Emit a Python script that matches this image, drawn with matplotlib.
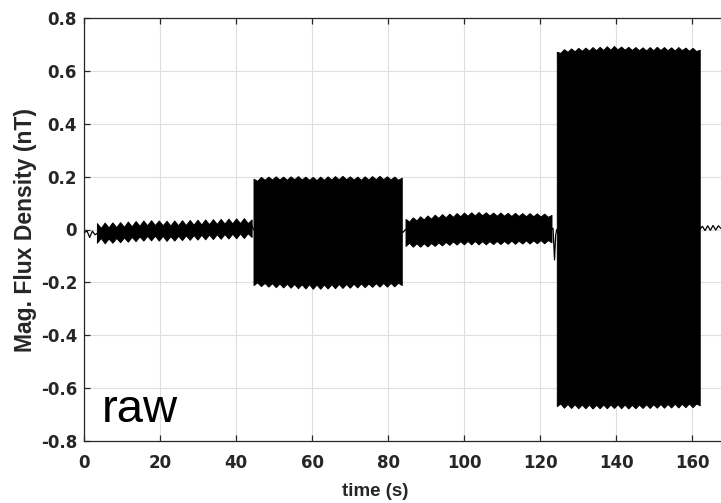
import numpy as np
import matplotlib
matplotlib.use("Agg")
import matplotlib.pyplot as plt

# time span of the four excitation blocks (s)
seg_start = [3.4, 44.6, 84.6, 124.4]
seg_end = [44.1, 83.6, 123.0, 162.0]

# envelope of each block (nT), alternating crest / trough
seg1_upper = [0.024, 0.006, 0.026, 0.008, 0.027, 0.009, 0.028, 0.010, 0.030, 0.012,
              0.032, 0.014, 0.034, 0.016, 0.035, 0.017, 0.034, 0.016, 0.033, 0.015,
              0.034, 0.016, 0.035, 0.017, 0.036, 0.018, 0.037, 0.019, 0.038, 0.020,
              0.039, 0.021, 0.040, 0.022, 0.041, 0.023, 0.042, 0.024, 0.043, 0.024, 0.038]
seg1_lower = [-0.050, -0.032, -0.052, -0.034, -0.050, -0.032, -0.048, -0.030, -0.046, -0.028,
              -0.044, -0.026, -0.042, -0.024, -0.041, -0.023, -0.042, -0.024, -0.043, -0.025,
              -0.042, -0.024, -0.040, -0.022, -0.039, -0.021, -0.038, -0.020, -0.037, -0.019,
              -0.036, -0.018, -0.035, -0.017, -0.034, -0.016, -0.033, -0.015, -0.032, -0.014, -0.028]

seg2_upper = [0.192, 0.184, 0.199, 0.188, 0.200, 0.189, 0.201, 0.189, 0.200, 0.188,
              0.201, 0.190, 0.202, 0.189, 0.200, 0.188, 0.199, 0.187, 0.200, 0.188,
              0.201, 0.189, 0.202, 0.190, 0.203, 0.190, 0.201, 0.189, 0.200, 0.188,
              0.201, 0.189, 0.202, 0.190, 0.203, 0.190, 0.201, 0.189, 0.200, 0.188, 0.196]
seg2_lower = [-0.210, -0.200, -0.214, -0.202, -0.216, -0.203, -0.218, -0.204, -0.219, -0.205,
              -0.220, -0.206, -0.222, -0.207, -0.223, -0.207, -0.224, -0.208, -0.224, -0.208,
              -0.223, -0.207, -0.222, -0.206, -0.221, -0.206, -0.220, -0.205, -0.219, -0.204,
              -0.218, -0.204, -0.217, -0.203, -0.216, -0.202, -0.216, -0.202, -0.215, -0.201, -0.210]

seg3_upper = [0.040, 0.030, 0.046, 0.034, 0.050, 0.038, 0.053, 0.041, 0.056, 0.044,
              0.058, 0.046, 0.060, 0.048, 0.062, 0.050, 0.064, 0.052, 0.065, 0.053,
              0.066, 0.054, 0.065, 0.053, 0.064, 0.052, 0.064, 0.052, 0.063, 0.051,
              0.063, 0.051, 0.062, 0.050, 0.062, 0.050, 0.061, 0.049, 0.060, 0.048, 0.055]
seg3_lower = [-0.062, -0.050, -0.065, -0.052, -0.065, -0.052, -0.064, -0.051, -0.062, -0.049,
              -0.060, -0.047, -0.058, -0.045, -0.057, -0.044, -0.056, -0.043, -0.056, -0.043,
              -0.056, -0.044, -0.056, -0.044, -0.055, -0.043, -0.055, -0.043, -0.054, -0.042,
              -0.054, -0.042, -0.053, -0.041, -0.053, -0.041, -0.052, -0.040, -0.052, -0.040, -0.048]

seg4_upper = [0.672, 0.668, 0.682, 0.672, 0.685, 0.674, 0.687, 0.676, 0.688, 0.677,
              0.690, 0.678, 0.691, 0.679, 0.693, 0.680, 0.694, 0.681, 0.692, 0.680,
              0.691, 0.679, 0.690, 0.678, 0.689, 0.677, 0.690, 0.678, 0.691, 0.679,
              0.690, 0.678, 0.689, 0.677, 0.690, 0.678, 0.688, 0.676, 0.687, 0.675, 0.680]
seg4_lower = [-0.668, -0.658, -0.674, -0.660, -0.675, -0.661, -0.676, -0.662, -0.676, -0.662,
              -0.677, -0.663, -0.676, -0.662, -0.676, -0.662, -0.675, -0.661, -0.676, -0.662,
              -0.677, -0.663, -0.676, -0.662, -0.675, -0.661, -0.675, -0.661, -0.674, -0.660,
              -0.674, -0.660, -0.673, -0.659, -0.673, -0.659, -0.672, -0.658, -0.672, -0.658, -0.665]

# quiet stretches between blocks
quiet_t = [0.0, 0.8, 1.5, 2.2, 2.9, 3.4, 44.1, 44.3, 44.6]
quiet_v = [-0.012, -0.006, -0.030, -0.006, -0.020, -0.015, 0.020, 0.010, 0.0]
gap23_t = [83.6, 84.0, 84.3, 84.6]
gap23_v = [-0.010, -0.010, -0.005, 0.0]
gap34_t = [123.0, 123.4, 123.8, 124.1, 124.4]
gap34_v = [0.0, 0.005, -0.115, -0.020, 0.0]
post_t = [162.0, 162.7, 163.4, 164.1, 164.8, 165.5, 166.2, 166.9, 167.6]
post_v = [0.0, 0.012, -0.004, 0.014, -0.003, 0.015, -0.002, 0.014, 0.004]

x_ticks = [0, 20, 40, 60, 80, 100, 120, 140, 160]
y_ticks = [-0.8, -0.6, -0.4, -0.2, 0, 0.2, 0.4, 0.6, 0.8]
y_ticklabels = ["-0.8", "-0.6", "-0.4", "-0.2", "0", "0.2", "0.4", "0.6", "0.8"]

plt.rcParams["font.family"] = ["Liberation Sans", "DejaVu Sans"]
txt = "#262626"

fig = plt.figure(figsize=(7.21, 5.03), dpi=100)
ax = fig.add_axes([84 / 721, 62 / 503, 637 / 721, 423 / 503])  # llx, lly, w, h

uppers = [seg1_upper, seg2_upper, seg3_upper, seg4_upper]
lowers = [seg1_lower, seg2_lower, seg3_lower, seg4_lower]
for start, end, up, lo in zip(seg_start, seg_end, uppers, lowers):
    t = np.linspace(start, end, len(up))
    ax.fill_between(t, lo, up, facecolor="k", edgecolor="k", linewidth=0.7, zorder=3)

for tt, vv in ((quiet_t, quiet_v), (gap23_t, gap23_v), (gap34_t, gap34_v), (post_t, post_v)):
    ax.plot(tt, vv, color="k", linewidth=0.9, zorder=3)

ax.set_xlim(0, 167.6)
ax.set_ylim(-0.8, 0.8)
ax.set_xticks(x_ticks)
ax.set_yticks(y_ticks)
ax.set_yticklabels(y_ticklabels)

ax.grid(True, color="#dedede", linewidth=0.8)
ax.set_axisbelow(True)
ax.spines["right"].set_visible(False)
for side in ("left", "top", "bottom"):
    ax.spines[side].set_color(txt)
    ax.spines[side].set_linewidth(0.9)
ax.tick_params(direction="in", length=4, width=0.9, colors=txt, top=True, right=False)
ax.tick_params(axis="x", pad=9)
ax.tick_params(axis="y", pad=5)
for lab in ax.get_xticklabels() + ax.get_yticklabels():
    lab.set_fontfamily("DejaVu Sans")
    lab.set_fontweight("bold")
    lab.set_fontsize(12)

ax.set_xlabel("time (s)", fontsize=13.5, fontweight="bold", color=txt)
ax.xaxis.set_label_coords(0.457, -0.1)
ax.set_ylabel("Mag. Flux Density (nT)", fontsize=16.5, fontweight="bold", color=txt)
ax.yaxis.set_label_coords(-0.074, 0.5)

ax.text(0.028, 0.045, "raw", transform=ax.transAxes, fontsize=34, color="k")

fig.savefig("out.png", dpi=100)
